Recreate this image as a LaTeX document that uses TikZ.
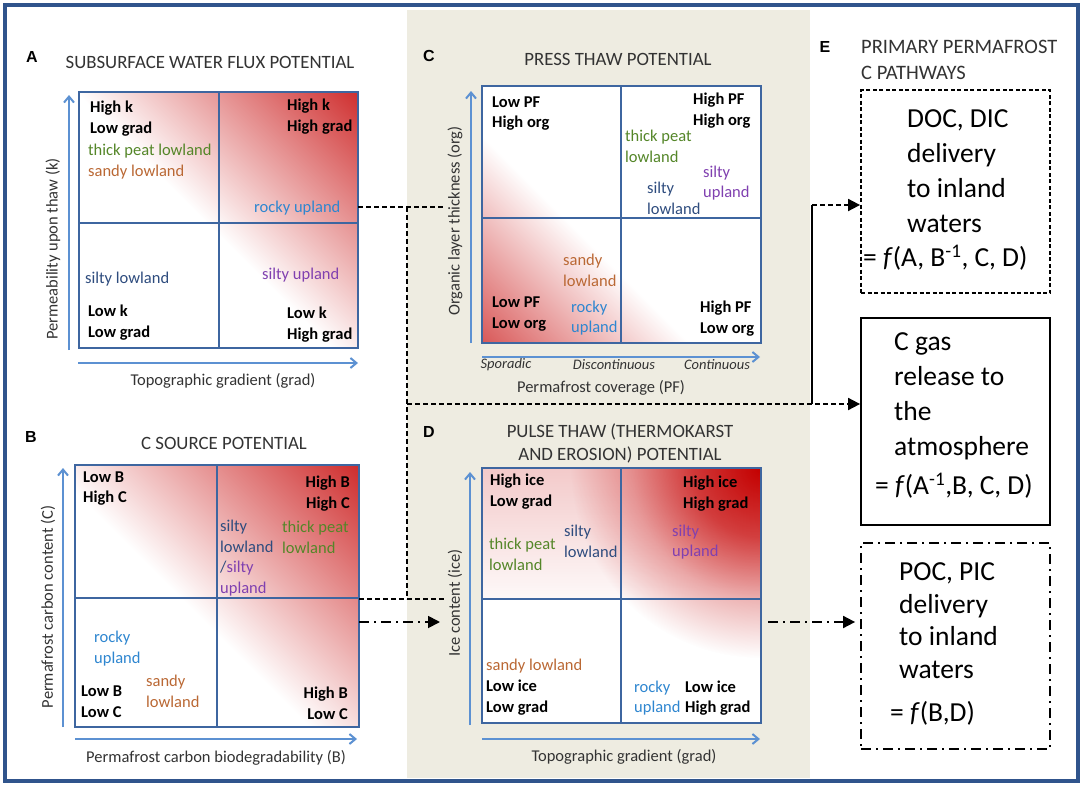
\documentclass[tikz,border=0pt]{standalone}
\usepackage{fontspec}
\setmainfont{Carlito}
\newfontfamily\arialfont{Liberation Sans}
\usetikzlibrary{arrows.meta,positioning,fadings}

\definecolor{frameblue}{RGB}{48,84,140}
\definecolor{gridblue}{RGB}{62,102,160}
\definecolor{axisblue}{RGB}{92,145,210}
\definecolor{panelbeige}{RGB}{238,236,225}
\definecolor{hotred}{RGB}{196,0,0}
\definecolor{peatgreen}{RGB}{84,134,40}
\definecolor{sandbrown}{RGB}{186,104,52}
\definecolor{rockblue}{RGB}{46,134,208}
\definecolor{siltblue}{RGB}{46,76,126}
\definecolor{siltpurple}{RGB}{128,64,176}

% red heat of the quadrant grids
\pgfdeclarehorizontalshading{heatA}{100bp}{color(0bp)=(white); color(48bp)=(white); color(94bp)=(hotred); color(100bp)=(hotred)}
\pgfdeclarehorizontalshading{heatB}{100bp}{color(0bp)=(white); color(45bp)=(white); color(94bp)=(hotred); color(100bp)=(hotred)}
\pgfdeclarehorizontalshading{heatC}{100bp}{color(0bp)=(white); color(58bp)=(white); color(100bp)=(hotred)}
\pgfdeclareverticalshading{bandD}{100bp}{color(0bp)=(white); color(18bp)=(white); color(100bp)=(hotred!30)}
\pgfdeclareradialshading{glowD}{\pgfpointorigin}{color(0bp)=(white); color(9bp)=(black!28); color(17bp)=(black!70); color(25bp)=(black); color(50bp)=(black)}
\pgfdeclarefading{cornerD}{\pgfuseshading{glowD}}

\tikzset{
  quad/.style={font=\fontsize{16.5}{20.8}\selectfont\bfseries, align=left, inner sep=0pt, anchor=west},
  quadr/.style={quad, align=right, anchor=east},
  soil/.style={font=\fontsize{16.5}{20.8}\selectfont, align=left, inner sep=0pt, anchor=west},
  title/.style={font=\fontsize{18.8}{23}\selectfont, text=black!80, inner sep=0pt},
  letter/.style={font=\arialfont\fontsize{16}{16}\selectfont\bfseries, inner sep=0pt},
  axlabel/.style={font=\fontsize{16.5}{18}\selectfont, text=black!80, inner sep=0pt},
  tick/.style={font=\fontsize{14.5}{16}\selectfont\itshape, text=black!80, inner sep=0pt},
  axis/.style={axisblue, line width=2pt, -{Straight Barb[length=6pt,width=10pt]}},
  gridbox/.style={draw=gridblue, line width=2.2pt, inner sep=0pt, outer sep=0pt},
  gridline/.style={gridblue, line width=2.2pt},
  dsh/.style={line width=1.8pt, dash pattern=on 5pt off 3pt},
  dshdot/.style={line width=1.8pt, dash pattern=on 10pt off 5pt on 2pt off 5pt},
  tip/.style={-{Triangle[length=12pt,width=12pt]}},
  pathbox/.style={draw, line width=1.8pt, minimum width=189pt, inner sep=0pt},
  pathtxt/.style={font=\fontsize{27.5}{35}\selectfont, align=left, inner sep=0pt, anchor=west},
}

\begin{document}
\begin{tikzpicture}[x=1pt, y=-1pt]
\useasboundingbox (0,0) rectangle (1084,787);
\fill[white] (0,0) rectangle (1084,787);
\draw[frameblue, line width=3.2pt] (5,5) rectangle (1078,781);
\fill[panelbeige] (407,10) rectangle (810,778);

% A
\node[letter] (A-tag) at (32,57) {A};
\node[title] (A-title) at (210,62) {SUBSURFACE WATER FLUX POTENTIAL};
\node[gridbox, shade, shading=heatA, shading angle=45, minimum width=279pt, minimum height=256pt] (gridA) at (218.5,220) {};
\draw[gridline] (219,92) -- (219,348) (79,223) -- (358,223);
\draw[axis] (69,350) -- (69,95);
\draw[axis] (78,363) -- (358,363);
\node[axlabel, rotate=90] (A-ylab) at (53,249) {Permeability upon thaw (k)};
\node[axlabel] (A-xlab) at (223,381) {Topographic gradient (grad)};
\node[quad] (A-hl) at (90,119) {High k\\Low grad};
\node[soil, text=peatgreen] (A-tp) at (88,151) {thick peat lowland};
\node[soil, text=sandbrown] (A-sa) at (88,172) {sandy lowland};
\node[quad] (A-hh) at (287,117) {High k\\High grad};
\node[soil, text=rockblue] (A-ru) at (254,208) {rocky upland};
\node[soil, text=siltblue] (A-sl) at (85,279) {silty lowland};
\node[soil, text=siltpurple] (A-su) at (262,275) {silty upland};
\node[quad] (A-ll) at (88,323) {Low k\\Low grad};
\node[quad] (A-lh) at (287,324.5) {Low k\\High grad};

% B
\node[letter] (B-tag) at (31,437) {B};
\node[title] (B-title) at (224,443) {C SOURCE POTENTIAL};
\node[gridbox, shade, shading=heatB, shading angle=45, minimum width=284pt, minimum height=262pt] (gridB) at (217,596) {};
\draw[gridline] (217,465) -- (217,727) (75,598) -- (359,598);
\draw[axis] (63,727) -- (63,468);
\draw[axis] (75,739) -- (357,739);
\node[axlabel, rotate=90] (B-ylab) at (48,607) {Permafrost carbon content (C)};
\node[axlabel] (B-xlab) at (216,758) {Permafrost carbon biodegradability (B)};
\node[quad] (B-lh) at (83,488.5) {Low B\\High C};
\node[quadr] (B-hh) at (350,494) {High B\\High C};
\node[soil, text=siltblue] (B-sl) at (220,558) {silty\\lowland\\/\textcolor{siltpurple}{silty}\\\textcolor{siltpurple}{upland}};
\node[soil, text=peatgreen] (B-tp) at (282,537.5) {thick peat\\lowland};
\node[soil, text=rockblue] (B-ru) at (94,648.5) {rocky\\upland};
\node[soil, text=sandbrown] (B-sa) at (146,691) {sandy\\lowland};
\node[quad] (B-ll) at (81,702) {Low B\\Low C};
\node[quadr] (B-hl) at (348,703.5) {High B\\Low C};

% C
\node[letter] (C-tag) at (429,56) {C};
\node[title] (C-title) at (618,59) {PRESS THAW POTENTIAL};
\node[gridbox, shade, shading=heatC, shading angle=225, minimum width=279pt, minimum height=257pt] (gridC) at (621.5,214.5) {};
\draw[gridline] (621,86) -- (621,343) (482,218) -- (761,218);
\draw[axis] (471,343) -- (471,91);
\draw[axis] (482,357) -- (760,357);
\node[tick] (C-spor) at (506,365) {Sporadic};
\node[tick] (C-disc) at (614,365) {Discontinuous};
\node[tick] (C-cont) at (717,365) {Continuous};
\node[axlabel, rotate=90] (C-ylab) at (455,221) {Organic layer thickness (org)};
\node[axlabel] (C-xlab) at (601,388) {Permafrost coverage (PF)};
\node[quad] (C-lh) at (492,113.5) {Low PF\\High org};
\node[quad] (C-hh) at (693,110.5) {High PF\\High org};
\node[soil, text=peatgreen] (C-tp) at (625,146) {thick peat\\lowland};
\node[soil, text=siltpurple] (C-su) at (703,183) {silty\\upland};
\node[soil, text=siltblue] (C-sl) at (647,198) {silty\\lowland};
\node[soil, text=sandbrown] (C-sa) at (563,270) {sandy\\lowland};
\node[quad] (C-ll) at (492,314) {Low PF\\Low org};
\node[soil, text=rockblue] (C-ru) at (571,318) {rocky\\upland};
\node[quad] (C-hl) at (700,318.5) {High PF\\Low org};

% D
\node[letter] (D-tag) at (429,432) {D};
\node[title, align=center] (D-title) at (620,443.5) {PULSE THAW (THERMOKARST\\AND EROSION) POTENTIAL};
\fill[white] (482,468) rectangle (761,723);
\shade[shading=bandD] (482,468) rectangle (761,599);
\begin{scope}
  \clip (482,468) rectangle (761,723);
  \fill[hotred, path fading=cornerD] (761,468) circle (190pt);
\end{scope}
\node[gridbox, minimum width=279pt, minimum height=255pt] (gridD) at (621.5,595.5) {};
\draw[gridline] (621,468) -- (621,723) (482,599) -- (761,599);
\draw[axis] (470,725) -- (470,472);
\draw[axis] (482,739) -- (760,739);
\node[axlabel, rotate=90] (D-ylab) at (455,603) {Ice content (ice)};
\node[axlabel] (D-xlab) at (624,757) {Topographic gradient (grad)};
\node[quad] (D-hl) at (490,492) {High ice\\Low grad};
\node[quad] (D-hh) at (683,494) {High ice\\High grad};
\node[soil, text=siltblue] (D-sl) at (564,541) {silty\\lowland};
\node[soil, text=peatgreen] (D-tp) at (489,554) {thick peat\\lowland};
\node[soil, text=siltpurple] (D-su) at (672,542) {silty\\upland};
\node[soil, text=sandbrown] (D-sa) at (486,666) {sandy lowland};
\node[quad] (D-ll) at (486,697.5) {Low ice\\Low grad};
\node[soil, text=rockblue] (D-ru) at (634,698) {rocky\\upland};
\node[quad] (D-lh) at (685,698) {Low ice\\High grad};

% E
\node[letter] (E-tag) at (825,47) {E};
\node[title, font=\fontsize{20.5}{26}\selectfont, align=left, anchor=west] (E-title) at (861,60) {PRIMARY PERMAFROST\\C PATHWAYS};
\node[pathbox, dash pattern=on 4pt off 2.5pt, minimum height=203pt] (boxDOC) at (955.5,191.5) {};
\node[pathtxt] (DOC-txt) at (907,171) {DOC, DIC\\delivery\\to inland\\waters};
\node[pathtxt] (DOC-f) at (863,258) {= \textit{f}(A, B\textsuperscript{-1}, C, D)};
\node[pathbox, minimum height=207pt] (boxGas) at (955.5,421.5) {};
\node[pathtxt] (Gas-txt) at (894,396) {C gas\\release to\\the\\atmosphere};
\node[pathtxt] (Gas-f) at (875,486) {= \textit{f}(A\textsuperscript{-1},B, C, D)};
\node[pathbox, dash pattern=on 10pt off 5pt on 2pt off 5pt, minimum height=206pt] (boxPOC) at (955.5,646) {};
\node[pathtxt, font=\fontsize{27.5}{32.5}\selectfont] (POC-txt) at (899,620.5) {POC, PIC\\delivery\\to inland\\waters};
\node[pathtxt] (POC-f) at (890,713) {= \textit{f}(B,D)};

% pathways
\coordinate (toC) at (445,207);
\coordinate (toD) at (445,599);
\coordinate (jTop) at (407,207);
\coordinate (jBot) at (407,599);
\coordinate (jGas) at (407,404);
\coordinate (jUp) at (812,404);
\coordinate (jDOC) at (812,205);
\coordinate (pulseB) at (359,622);
\coordinate (toDpulse) at (440,622);
\draw[dsh] (gridA.east |- jTop) -- (toC);
\draw[dsh] (gridB.east |- jBot) -- (toD);
\draw[dsh] (jTop) -- (jBot);
\draw[dsh, tip] (jGas) -- (boxGas.west |- jGas);
\draw[line width=1.8pt] (jUp) -- (jDOC);
\draw[dsh, tip] (jDOC) -- (boxDOC.west |- jDOC);
\draw[dshdot, tip] (pulseB) -- (toDpulse);
\draw[dshdot, tip, shorten <=7pt, shorten >=5pt] (gridD.east |- pulseB) -- (boxPOC.west |- pulseB);
\end{tikzpicture}
\end{document}
